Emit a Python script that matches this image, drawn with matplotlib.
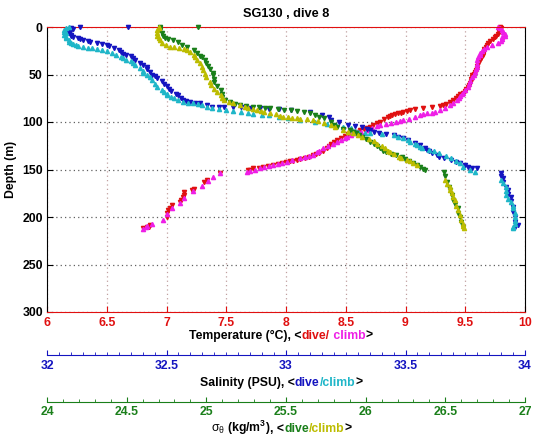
import matplotlib
matplotlib.use("Agg")
import matplotlib.pyplot as plt
from matplotlib.ticker import MultipleLocator
from matplotlib.offsetbox import TextArea, HPacker, AnnotationBbox

plt.rcParams['font.family'] = ['Liberation Sans', 'DejaVu Sans']
plt.rcParams['mathtext.fontset'] = 'custom'
plt.rcParams['mathtext.rm'] = 'Liberation Sans'
plt.rcParams['mathtext.bf'] = 'Liberation Sans:bold'
plt.rcParams['mathtext.it'] = 'Liberation Sans:italic'

# ---------------- data ----------------
title = "SG130 , dive 8"

temp_dive_depth = [0, 1, 3, 5, 7, 9, 11, 13, 15, 17, 19, 21, 23, 25, 27, 29, 31, 33, 35, 37, 39, 41,
                   43, 45, 47, 49, 51, 53, 55, 57, 59, 61, 63, 65, 67, 69, 71, 73, 75, 77, 79, 81,
                   82, 83, 84, 85, 86, 87, 88, 89, 90, 91, 92, 93, 94, 95, 97, 100, 101, 103, 105,
                   106, 107, 108, 110, 111, 113, 115, 117, 119, 121, 123, 125, 127, 130, 133, 134,
                   135, 137, 138, 139, 140, 141, 141, 142, 143, 144, 145, 146, 147, 148, 148, 150,
                   151, 154, 161, 163, 170, 172, 174, 177, 179, 182, 184, 187, 191, 193, 196, 200,
                   208, 210, 211, 212]
temp_dive = [9.79, 9.80, 9.79, 9.78, 9.77, 9.76, 9.75, 9.73, 9.71, 9.69, 9.68, 9.67, 9.66, 9.66,
             9.65, 9.65, 9.64, 9.63, 9.62, 9.61, 9.61, 9.60, 9.60, 9.59, 9.58, 9.57, 9.56, 9.56,
             9.55, 9.55, 9.54, 9.53, 9.52, 9.51, 9.50, 9.48, 9.46, 9.44, 9.42, 9.40, 9.37, 9.34,
             9.31, 9.29, 9.22, 9.15, 9.08, 9.04, 9.01, 8.98, 8.96, 8.94, 8.91, 8.89, 8.87, 8.85,
             8.82, 8.79, 8.76, 8.73, 8.70, 8.68, 8.65, 8.62, 8.59, 8.56, 8.52, 8.49, 8.46, 8.43,
             8.40, 8.38, 8.36, 8.34, 8.31, 8.28, 8.25, 8.23, 8.19, 8.16, 8.12, 8.09, 8.06, 8.03,
             8.00, 7.97, 7.93, 7.89, 7.85, 7.81, 7.77, 7.72, 7.70, 7.68, 7.45, 7.34, 7.31, 7.23,
             7.21, 7.15, 7.15, 7.14, 7.12, 7.11, 7.05, 7.03, 7.01, 7.00, 7.00, 6.86, 6.85, 6.84,
             6.80]

temp_climb_depth = [213, 211, 209, 207, 203, 197, 191, 185, 180, 173, 167, 162, 158, 154, 153,
                    152, 150, 148, 147, 146, 145, 144, 143, 142, 140, 138, 137, 136, 135, 132,
                    130, 127, 125, 123, 121, 119, 117, 116, 114, 112, 111, 110, 108, 106, 104,
                    103, 102, 101, 100, 99, 98, 97, 95, 93, 92, 91, 90, 89, 87, 85, 82, 80, 77,
                    75, 73, 71, 69, 66, 63, 60, 57, 53, 50, 47, 44, 42, 39, 35, 32, 29, 27, 25,
                    23, 21, 19, 17, 15, 13, 11, 9, 7, 5, 3, 1, 0]
temp_climb = [6.80, 6.83, 6.84, 6.88, 6.97, 7.00, 7.05, 7.11, 7.15, 7.22, 7.30, 7.35, 7.39, 7.45,
              7.67, 7.70, 7.74, 7.78, 7.82, 7.86, 7.89, 7.93, 7.97, 8.01, 8.05, 8.12, 8.16, 8.19,
              8.23, 8.26, 8.28, 8.31, 8.35, 8.39, 8.43, 8.46, 8.49, 8.51, 8.54, 8.57, 8.59, 8.63,
              8.68, 8.72, 8.76, 8.79, 8.84, 8.88, 8.92, 8.95, 8.98, 9.03, 9.08, 9.12, 9.15, 9.18,
              9.22, 9.25, 9.29, 9.33, 9.37, 9.40, 9.43, 9.45, 9.46, 9.47, 9.48, 9.50, 9.52, 9.53,
              9.54, 9.56, 9.57, 9.58, 9.59, 9.60, 9.60, 9.60, 9.61, 9.62, 9.62, 9.64, 9.66, 9.68,
              9.72, 9.77, 9.80, 9.81, 9.81, 9.83, 9.83, 9.82, 9.81, 9.79, 9.77]

sal_dive_depth = [0, 0, 1, 2, 3, 5, 6, 8, 9, 11, 12, 13, 14, 15, 16, 17, 18, 19, 20, 22, 24, 26,
                  28, 29, 31, 33, 35, 38, 40, 42, 44, 47, 50, 52, 54, 57, 60, 62, 65, 67, 70, 72,
                  75, 77, 78, 79, 80, 80, 82, 84, 84, 84, 84, 84, 85, 85, 86, 86, 87, 89, 93, 95,
                  98, 100, 103, 104, 105, 107, 108, 110, 112, 113, 114, 116, 117, 119, 122, 124,
                  127, 129, 131, 133, 135, 137, 138, 140, 142, 143, 145, 147, 148, 148, 154, 157,
                  159, 163, 168, 172, 176, 179, 183, 189, 195, 200, 205, 208, 211]
sal_dive = [32.14, 32.34, 32.10, 32.11, 32.10, 32.09, 32.09, 32.10, 32.10, 32.11, 32.13, 32.14,
            32.15, 32.17, 32.18, 32.21, 32.23, 32.25, 32.26, 32.28, 32.30, 32.31, 32.32, 32.33,
            32.35, 32.36, 32.37, 32.39, 32.40, 32.42, 32.42, 32.43, 32.44, 32.45, 32.46, 32.48,
            32.49, 32.50, 32.51, 32.52, 32.54, 32.55, 32.56, 32.57, 32.58, 32.60, 32.62, 32.64,
            32.67, 32.69, 32.72, 32.74, 32.78, 32.81, 32.85, 32.89, 32.93, 32.97, 33.02, 33.10,
            33.15, 33.18, 33.19, 33.22, 33.26, 33.29, 33.32, 33.34, 33.35, 33.37, 33.39, 33.42,
            33.45, 33.47, 33.49, 33.51, 33.54, 33.56, 33.58, 33.59, 33.60, 33.61, 33.63, 33.64,
            33.66, 33.69, 33.71, 33.73, 33.75, 33.76, 33.78, 33.80, 33.90, 33.90, 33.91, 33.91,
            33.92, 33.93, 33.93, 33.94, 33.94, 33.95, 33.95, 33.96, 33.96, 33.97, 33.96]

sal_climb_depth = [0, 1, 3, 5, 6, 8, 10, 12, 14, 16, 17, 18, 19, 20, 21, 22, 22, 23, 24, 25, 27,
                   29, 32, 33, 35, 36, 38, 40, 43, 46, 48, 51, 53, 56, 60, 63, 66, 68, 70, 72, 74,
                   75, 77, 79, 80, 80, 81, 82, 84, 85, 86, 87, 88, 89, 91, 92, 93, 93, 95, 96, 98,
                   100, 102, 103, 105, 106, 109, 111, 112, 112, 113, 114, 116, 117, 119, 121, 123,
                   124, 126, 127, 129, 131, 133, 136, 138, 141, 143, 147, 150, 153, 161, 164, 168,
                   173, 177, 181, 184, 188, 191, 196, 200, 204, 207, 210, 212]
sal_climb = [32.09, 32.08, 32.07, 32.07, 32.08, 32.07, 32.08, 32.08, 32.09, 32.09, 32.10, 32.11,
             32.12, 32.13, 32.15, 32.17, 32.19, 32.21, 32.23, 32.25, 32.27, 32.29, 32.31, 32.32,
             32.33, 32.35, 32.36, 32.37, 32.39, 32.40, 32.40, 32.42, 32.43, 32.44, 32.45, 32.46,
             32.48, 32.49, 32.50, 32.50, 32.52, 32.53, 32.55, 32.57, 32.59, 32.61, 32.63, 32.65,
             32.67, 32.69, 32.72, 32.75, 32.78, 32.81, 32.84, 32.86, 32.90, 32.93, 32.97, 33.01,
             33.06, 33.12, 33.17, 33.21, 33.24, 33.27, 33.29, 33.30, 33.33, 33.35, 33.40, 33.45,
             33.47, 33.49, 33.51, 33.52, 33.54, 33.55, 33.56, 33.57, 33.60, 33.62, 33.64, 33.67,
             33.69, 33.71, 33.73, 33.74, 33.77, 33.79, 33.90, 33.91, 33.92, 33.92, 33.92, 33.93,
             33.94, 33.95, 33.95, 33.96, 33.96, 33.96, 33.96, 33.95, 33.95]

sig_dive_depth = [0, 0, 1, 3, 6, 9, 12, 13, 14, 16, 19, 21, 24, 27, 30, 32, 35, 38, 41, 44, 48,
                  51, 55, 58, 62, 66, 70, 74, 77, 79, 81, 82, 83, 84, 84, 85, 85, 86, 87, 87, 88,
                  89, 91, 93, 95, 96, 100, 103, 105, 107, 108, 110, 112, 114, 116, 118, 121, 123,
                  125, 127, 130, 132, 134, 135, 137, 139, 141, 143, 145, 147, 149, 151, 153, 157,
                  163, 168, 172, 177, 182, 186, 191, 196, 200, 205, 211]
sig_dive = [24.95, 24.71, 24.71, 24.71, 24.72, 24.73, 24.74, 24.76, 24.79, 24.82, 24.85, 24.88,
            24.92, 24.94, 24.96, 24.97, 24.99, 25.00, 25.01, 25.02, 25.04, 25.04, 25.05, 25.05,
            25.07, 25.09, 25.10, 25.10, 25.12, 25.15, 25.18, 25.21, 25.25, 25.29, 25.33, 25.37,
            25.40, 25.45, 25.49, 25.53, 25.57, 25.61, 25.65, 25.68, 25.71, 25.74, 25.78, 25.80,
            25.82, 25.86, 25.90, 25.92, 25.94, 25.96, 25.98, 26.00, 26.03, 26.05, 26.07, 26.09,
            26.11, 26.13, 26.16, 26.19, 26.23, 26.25, 26.27, 26.30, 26.32, 26.34, 26.36, 26.37,
            26.49, 26.50, 26.51, 26.52, 26.53, 26.54, 26.55, 26.56, 26.58, 26.58, 26.59, 26.60,
            26.61]

sig_climb_depth = [0, 1, 3, 6, 9, 12, 14, 17, 19, 21, 21, 22, 23, 24, 26, 29, 32, 35, 38, 42, 45,
                   49, 53, 58, 61, 65, 68, 72, 75, 77, 79, 80, 82, 84, 85, 86, 87, 88, 89, 91, 92,
                   94, 95, 95, 96, 96, 97, 97, 98, 99, 101, 103, 105, 108, 110, 112, 114, 116, 118,
                   120, 123, 125, 127, 130, 132, 134, 137, 138, 140, 141, 143, 145, 161, 165, 168,
                   172, 175, 179, 182, 188, 193, 198, 203, 207, 209, 212]
sig_climb = [24.70, 24.70, 24.69, 24.69, 24.69, 24.70, 24.71, 24.72, 24.75, 24.77, 24.80, 24.83,
             24.86, 24.88, 24.90, 24.92, 24.93, 24.94, 24.96, 24.97, 24.98, 24.99, 25.00, 25.02,
             25.03, 25.05, 25.07, 25.09, 25.10, 25.11, 25.14, 25.17, 25.21, 25.24, 25.26, 25.29,
             25.32, 25.34, 25.36, 25.40, 25.44, 25.46, 25.48, 25.51, 25.54, 25.57, 25.59, 25.63,
             25.67, 25.70, 25.74, 25.78, 25.81, 25.86, 25.89, 25.92, 25.95, 25.98, 26.02, 26.05,
             26.07, 26.10, 26.12, 26.14, 26.15, 26.18, 26.21, 26.22, 26.26, 26.28, 26.30, 26.32,
             26.50, 26.51, 26.53, 26.53, 26.54, 26.55, 26.56, 26.57, 26.58, 26.59, 26.60, 26.61,
             26.61, 26.62]

temp_ticks = [6, 6.5, 7, 7.5, 8, 8.5, 9, 9.5, 10]
sal_ticks = [32, 32.5, 33, 33.5, 34]
sig_ticks = [24, 24.5, 25, 25.5, 26, 26.5, 27]
depth_ticks = [0, 50, 100, 150, 200, 250, 300]

# ---------------- style ----------------
RED = '#e01010'
MAG = '#ee1ee6'
BLUE = '#1414c0'
CYAN = '#1fb6c8'
GREEN = '#1a7f1a'
OLIVE = '#bcbc00'
FS = 8.8
MS = 3.0

W, H = 535, 442
fig = plt.figure(figsize=(W / 100, H / 100), dpi=100)
ax = fig.add_axes([47 / W, 1 - 312 / H, 478 / W, 285 / H])

ax.set_xlim(6, 10)
ax.set_ylim(300, 0)
ax.set_xticks(temp_ticks)
ax.set_xticklabels([f"{t:g}" for t in temp_ticks])
ax.set_yticks(depth_ticks)
ax.tick_params(axis='x', which='both', direction='in', top=True, bottom=True,
               colors=RED, labelsize=FS, length=4, pad=3.5)
ax.tick_params(axis='y', which='both', direction='in', left=True, right=True,
               colors='black', labelsize=FS, length=4, pad=3)
for lab in ax.get_xticklabels() + ax.get_yticklabels():
    lab.set_fontweight('bold')
ax.spines['top'].set_color(RED)
ax.spines['bottom'].set_color(RED)
ax.spines['left'].set_color('black')
ax.spines['right'].set_color('black')
for s in ax.spines.values():
    s.set_linewidth(0.8)
ax.xaxis.grid(True, color='#c0a0a0', linestyle=(0, (1, 2.5)), linewidth=0.9)
ax.yaxis.grid(True, color='#606060', linestyle=(0, (1, 2.5)), linewidth=0.9)
ax.set_axisbelow(True)

ax.plot(temp_dive, temp_dive_depth, ls='none', marker='v', ms=MS, color=RED, clip_on=False)
ax.plot(temp_climb, temp_climb_depth, ls='none', marker='^', ms=MS, color=MAG, clip_on=False)

ax.set_ylabel('Depth (m)', fontsize=FS, fontweight='bold', labelpad=4)
ax.set_title(title, fontsize=9.2, fontweight='bold', pad=7)


def make_twin(xlim, ticks, minor, color, offset_px):
    t = ax.twiny()
    t.set_xlim(*xlim)
    t.set_ylim(300, 0)
    for side in ('top', 'left', 'right'):
        t.spines[side].set_visible(False)
    t.spines['bottom'].set_visible(True)
    t.spines['bottom'].set_position(('outward', offset_px * 0.72))
    t.spines['bottom'].set_color(color)
    t.spines['bottom'].set_linewidth(0.8)
    t.xaxis.set_ticks_position('bottom')
    t.xaxis.set_label_position('bottom')
    t.set_xticks(ticks)
    t.set_xticklabels([f"{v:g}" for v in ticks])
    t.xaxis.set_minor_locator(MultipleLocator(minor))
    t.tick_params(axis='x', which='major', direction='in', length=3.8, colors=color,
                  labelsize=FS, pad=3.5)
    t.tick_params(axis='x', which='minor', direction='in', length=2, colors=color)
    for lab in t.get_xticklabels():
        lab.set_fontweight('bold')
    t.grid(False)
    return t


ax_s = make_twin((32, 34), sal_ticks, 0.05, BLUE, 43)
ax_s.plot(sal_dive, sal_dive_depth, ls='none', marker='v', ms=MS, color=BLUE, clip_on=False)
ax_s.plot(sal_climb, sal_climb_depth, ls='none', marker='^', ms=MS, color=CYAN, clip_on=False)

ax_g = make_twin((24, 27), sig_ticks, 0.1, GREEN, 89.5)
ax_g.plot(sig_dive, sig_dive_depth, ls='none', marker='v', ms=MS, color=GREEN, clip_on=False)
ax_g.plot(sig_climb, sig_climb_depth, ls='none', marker='^', ms=MS, color=OLIVE, clip_on=False)


def multicolor(y_px, parts):
    areas = []
    for s, c, bold in parts:
        areas.append(TextArea(s, textprops=dict(color=c, fontsize=FS,
                                                fontweight='bold' if bold else 'normal')))
    box = HPacker(children=areas, align='baseline', pad=0, sep=0)
    ab = AnnotationBbox(box, (281 / W, 1 - y_px / H), xycoords='figure fraction',
                        frameon=False, box_alignment=(0.5, 0.5), pad=0)
    fig.add_artist(ab)


multicolor(336, [("Temperature (\u00b0C), <", 'black', True), ("dive/", RED, True),
                 (" climb", MAG, True), (">", 'black', True)])
multicolor(383, [("Salinity (PSU), <", 'black', True), ("dive", BLUE, True),
                 ("/climb", CYAN, True), (">", 'black', True)])
multicolor(428, [("$\\mathrm{\u03c3}_{\\mathrm{\u03b8}}$ $\\mathbf{(kg/m^{3})}$", 'black', False),
                 (", <", 'black', True),
                 ("dive", GREEN, True), ("/climb", OLIVE, True), (">", 'black', True)])

fig.savefig('out.png', dpi=100)
